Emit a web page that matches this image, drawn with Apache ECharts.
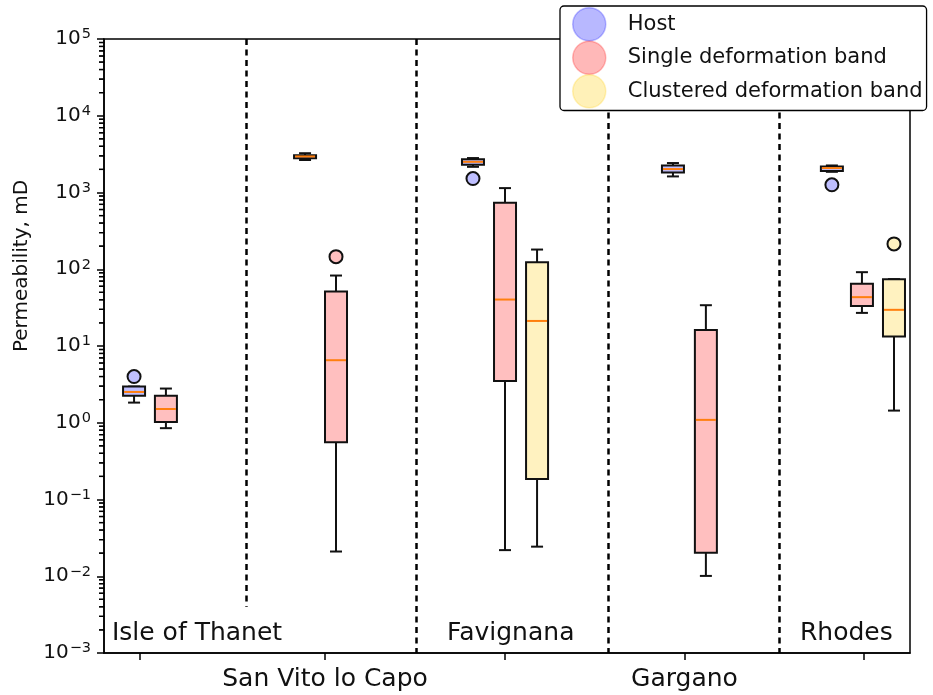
<!DOCTYPE html>
<html><head><meta charset="utf-8">
<script src="https://cdn.jsdelivr.net/npm/echarts@6/dist/echarts.min.js"></script>
<style>html,body{margin:0;padding:0;background:#fff}#c{width:933px;height:695px}</style>
</head><body><div id="c"></div>
<script>
// ---------- data ----------
const groups = ['Isle of Thanet', 'San Vito lo Capo', 'Favignana', 'Gargano', 'Rhodes'];
const groupTickX = [1.0, 2.028, 3.029, 4.025, 5.022];
const separatorX = [1.589, 2.533, 3.600, 4.550];
const separatorBottom = [0.004, 0.001, 0.001, 0.001];

// five-number summaries: [min, Q1, median, Q3, max]  (mD)
const hostX = [0.967, 1.917, 2.850, 3.961, 4.844];
const hostBox = [
  [1.83, 2.25, 2.52, 2.96, 2.96],
  [2650, 2800, 2950, 3050, 3250],
  [2160, 2300, 2510, 2710, 2810],
  [1620, 1820, 2020, 2250, 2420],
  [1860, 1900, 2080, 2180, 2250]
];
const hostOutliers = [[0.967, 4.0], [2.850, 1520], [4.844, 1260]];

const singleX = [1.144, 2.089, 3.028, 4.144, 5.011];
const singleBox = [
  [0.85, 1.02, 1.51, 2.25, 2.79],
  [0.021, 0.557, 6.53, 51.3, 82.8],
  [0.0219, 3.51, 40.3, 734, 1141],
  [0.0101, 0.0203, 1.09, 16.2, 34.0],
  [27.0, 33.3, 43.3, 64.5, 91.6]
];
const singleOutliers = [[2.089, 146]];

const clusteredX = [3.206, 5.189];
const clusteredBox = [
  [0.0243, 0.185, 21.2, 123.7, 180.6],
  [1.44, 13.3, 29.6, 74.3, 74.3]
];
const clusteredOutliers = [[5.189, 214]];

const yDecades = [-3, -2, -1, 0, 1, 2, 3, 4, 5];

// ---------- styling ----------
const FONT = 'DejaVu Sans';
const BOX_W = 22, CAP_W = 12, LW = 2, STROKE = '#111';
const FILL = { host: '#bfbfff', single: '#ffbfbf', clustered: '#fff2c0' };
const X_MIN = 0.8, X_MAX = 5.278;

const majorTicks = yDecades.map(e => Math.pow(10, e));
const minorTicks = [];
for (let d = 0; d < yDecades.length - 1; d++) {
  for (let k = 2; k <= 9; k++) minorTicks.push(k * Math.pow(10, yDecades[d]));
}

function boxRenderer(fill) {
  return function (params, api) {
    const x = api.value(0);
    const pMin = api.coord([x, api.value(1)]);
    const yQ1 = api.coord([x, api.value(2)])[1];
    const yMed = api.coord([x, api.value(3)])[1];
    const yQ3 = api.coord([x, api.value(4)])[1];
    const yMax = api.coord([x, api.value(5)])[1];
    const cx = pMin[0], yMin = pMin[1];
    const ls = { stroke: STROKE, lineWidth: LW };
    return {
      type: 'group', children: [
        { type: 'line', shape: { x1: cx, y1: yQ1, x2: cx, y2: yMin }, style: ls },
        { type: 'line', shape: { x1: cx, y1: yQ3, x2: cx, y2: yMax }, style: ls },
        { type: 'line', shape: { x1: cx - CAP_W / 2, y1: yMin, x2: cx + CAP_W / 2, y2: yMin }, style: ls },
        { type: 'line', shape: { x1: cx - CAP_W / 2, y1: yMax, x2: cx + CAP_W / 2, y2: yMax }, style: ls },
        { type: 'rect', shape: { x: cx - BOX_W / 2, y: yQ3, width: BOX_W, height: yQ1 - yQ3 }, style: { fill: fill, stroke: STROKE, lineWidth: LW } },
        { type: 'line', shape: { x1: cx - BOX_W / 2 + 1, y1: yMed, x2: cx + BOX_W / 2 - 1, y2: yMed }, style: { stroke: '#ff7f0e', lineWidth: 2 } }
      ]
    };
  };
}

function boxSeries(name, xs, boxes, fill) {
  return {
    name: name, type: 'custom', renderItem: boxRenderer(fill),
    itemStyle: { color: fill },
    encode: { x: 0, y: [1, 2, 3, 4, 5] },
    data: xs.map((x, i) => [x].concat(boxes[i])),
    z: 3
  };
}
function outlierSeries(name, pts, fill) {
  return {
    name: name, type: 'scatter', data: pts, symbol: 'circle', symbolSize: 13,
    itemStyle: { color: fill, borderColor: STROKE, borderWidth: LW, opacity: 1 }, z: 4
  };
}

// minor log ticks, drawn inside a custom series through the y scale
const minorTickSeries = {
  name: 'Host', type: 'custom', silent: true, clip: false, z: 6,
  encode: { x: 0, y: 1 },
  data: minorTicks.map(v => [X_MIN, v]),
  renderItem: (params, api) => {
    const p = api.coord([api.value(0), api.value(1)]);
    return { type: 'line', shape: { x1: p[0] - 5, y1: p[1], x2: p[0] + 0.5, y2: p[1] }, style: { stroke: '#000', lineWidth: 1.3 } };
  }
};

const hostOut = outlierSeries('Host', hostOutliers, FILL.host);
hostOut.markLine = {
  silent: true, symbol: 'none', animation: false,
  label: { show: false },
  lineStyle: { color: '#000', width: 2.5, type: [6, 4.5] },
  data: separatorX.map((x, i) => [{ coord: [x, 1e5] }, { coord: [x, separatorBottom[i]] }])
};
hostOut.markPoint = {
  silent: true, symbol: 'rect', symbolSize: 1, itemStyle: { color: 'rgba(0,0,0,0)' },
  label: { show: true, position: 'inside', fontSize: 25, fontFamily: FONT, color: '#111', formatter: p => p.name },
  data: [
    { name: groups[0], coord: [0.844, 0.0018], label: { align: 'left' } },
    { name: groups[2], coord: [3.06, 0.0018], label: { align: 'center' } },
    { name: groups[4], coord: [5.182, 0.0018], label: { align: 'right' } }
  ]
};

const chart = echarts.init(document.getElementById('c'), null, { renderer: 'canvas' });
chart.setOption({
  animation: false,
  backgroundColor: '#fff',
  textStyle: { fontFamily: FONT },
  grid: { left: 104, right: 23, top: 39, bottom: 42, show: true, borderColor: '#000', borderWidth: 1.5, backgroundColor: 'transparent' },
  legend: {
    left: 560, top: 6, orient: 'vertical', padding: [1, 4, 2, 12],
    itemWidth: 33, itemHeight: 33, itemGap: -1, icon: 'circle',
    backgroundColor: '#fff', borderColor: '#000', borderWidth: 1.3, borderRadius: 4,
    textStyle: { fontFamily: FONT, fontSize: 21, color: '#111', padding: [0, 0, 0, 17] },
    data: [
      { name: 'Host', itemStyle: { color: 'rgba(0,0,255,0.28)', borderColor: 'rgba(0,0,255,0.25)', borderWidth: 1.5 } },
      { name: 'Single deformation band', itemStyle: { color: 'rgba(255,0,0,0.28)', borderColor: 'rgba(255,0,0,0.25)', borderWidth: 1.5 } },
      { name: 'Clustered deformation band', itemStyle: { color: 'rgba(255,205,0,0.28)', borderColor: 'rgba(255,205,0,0.25)', borderWidth: 1.5 } }
    ],
    z: 10
  },
  xAxis: {
    type: 'value', min: X_MIN, max: X_MAX,
    splitLine: { show: false },
    axisLine: { lineStyle: { color: '#000', width: 1.5 } },
    axisTick: { show: true, customValues: groupTickX, length: 7, lineStyle: { color: '#000', width: 1.5 } },
    axisLabel: {
      customValues: [groupTickX[1], groupTickX[3]],
      formatter: v => { let b = 0; groupTickX.forEach((t, i) => { if (Math.abs(t - v) < Math.abs(groupTickX[b] - v)) b = i; }); return groups[b]; },
      fontSize: 25, fontFamily: FONT, color: '#111', margin: 14
    }
  },
  yAxis: {
    type: 'log', logBase: 10, min: 1e-3, max: 1e5,
    name: 'Permeability, mD', nameLocation: 'middle', nameGap: 54, nameRotate: 90,
    nameTextStyle: { fontSize: 20, fontFamily: FONT, color: '#111', padding: [0, 0, 0, 160] },
    splitLine: { show: false },
    axisLine: { show: true, lineStyle: { color: '#000', width: 1.5 } },
    axisTick: { show: true, customValues: majorTicks, length: 7, lineStyle: { color: '#000', width: 1.5 } },
    axisLabel: {
      customValues: majorTicks, margin: 13, color: '#111', fontSize: 20,
      formatter: v => { const e = Math.round(Math.log10(v)); return '{b|10}{s|' + (e < 0 ? '\u2212' : '') + Math.abs(e) + '}'; },
      rich: {
        b: { fontSize: 20, fontFamily: FONT, color: '#111' },
        s: { fontSize: 14.5, fontFamily: FONT, color: '#111', padding: [0, 0, 9, 1] }
      }
    }
  },
  series: [
    boxSeries('Host', hostX, hostBox, FILL.host),
    boxSeries('Single deformation band', singleX, singleBox, FILL.single),
    boxSeries('Clustered deformation band', clusteredX, clusteredBox, FILL.clustered),
    hostOut,
    outlierSeries('Single deformation band', singleOutliers, FILL.single),
    outlierSeries('Clustered deformation band', clusteredOutliers, FILL.clustered),
    minorTickSeries
  ]
});

// same minor ticks again as top-level graphics, positioned through the chart's y scale
const minorEls = minorTicks.map(v => {
  const p = chart.convertToPixel({ xAxisIndex: 0, yAxisIndex: 0 }, [X_MIN, v]);
  return { type: 'line', silent: true, z: 100, shape: { x1: p[0] - 5, y1: p[1], x2: p[0], y2: p[1] }, style: { stroke: '#000', lineWidth: 1.3 } };
});
chart.setOption({ graphic: { elements: minorEls } });
</script>
</body></html>
